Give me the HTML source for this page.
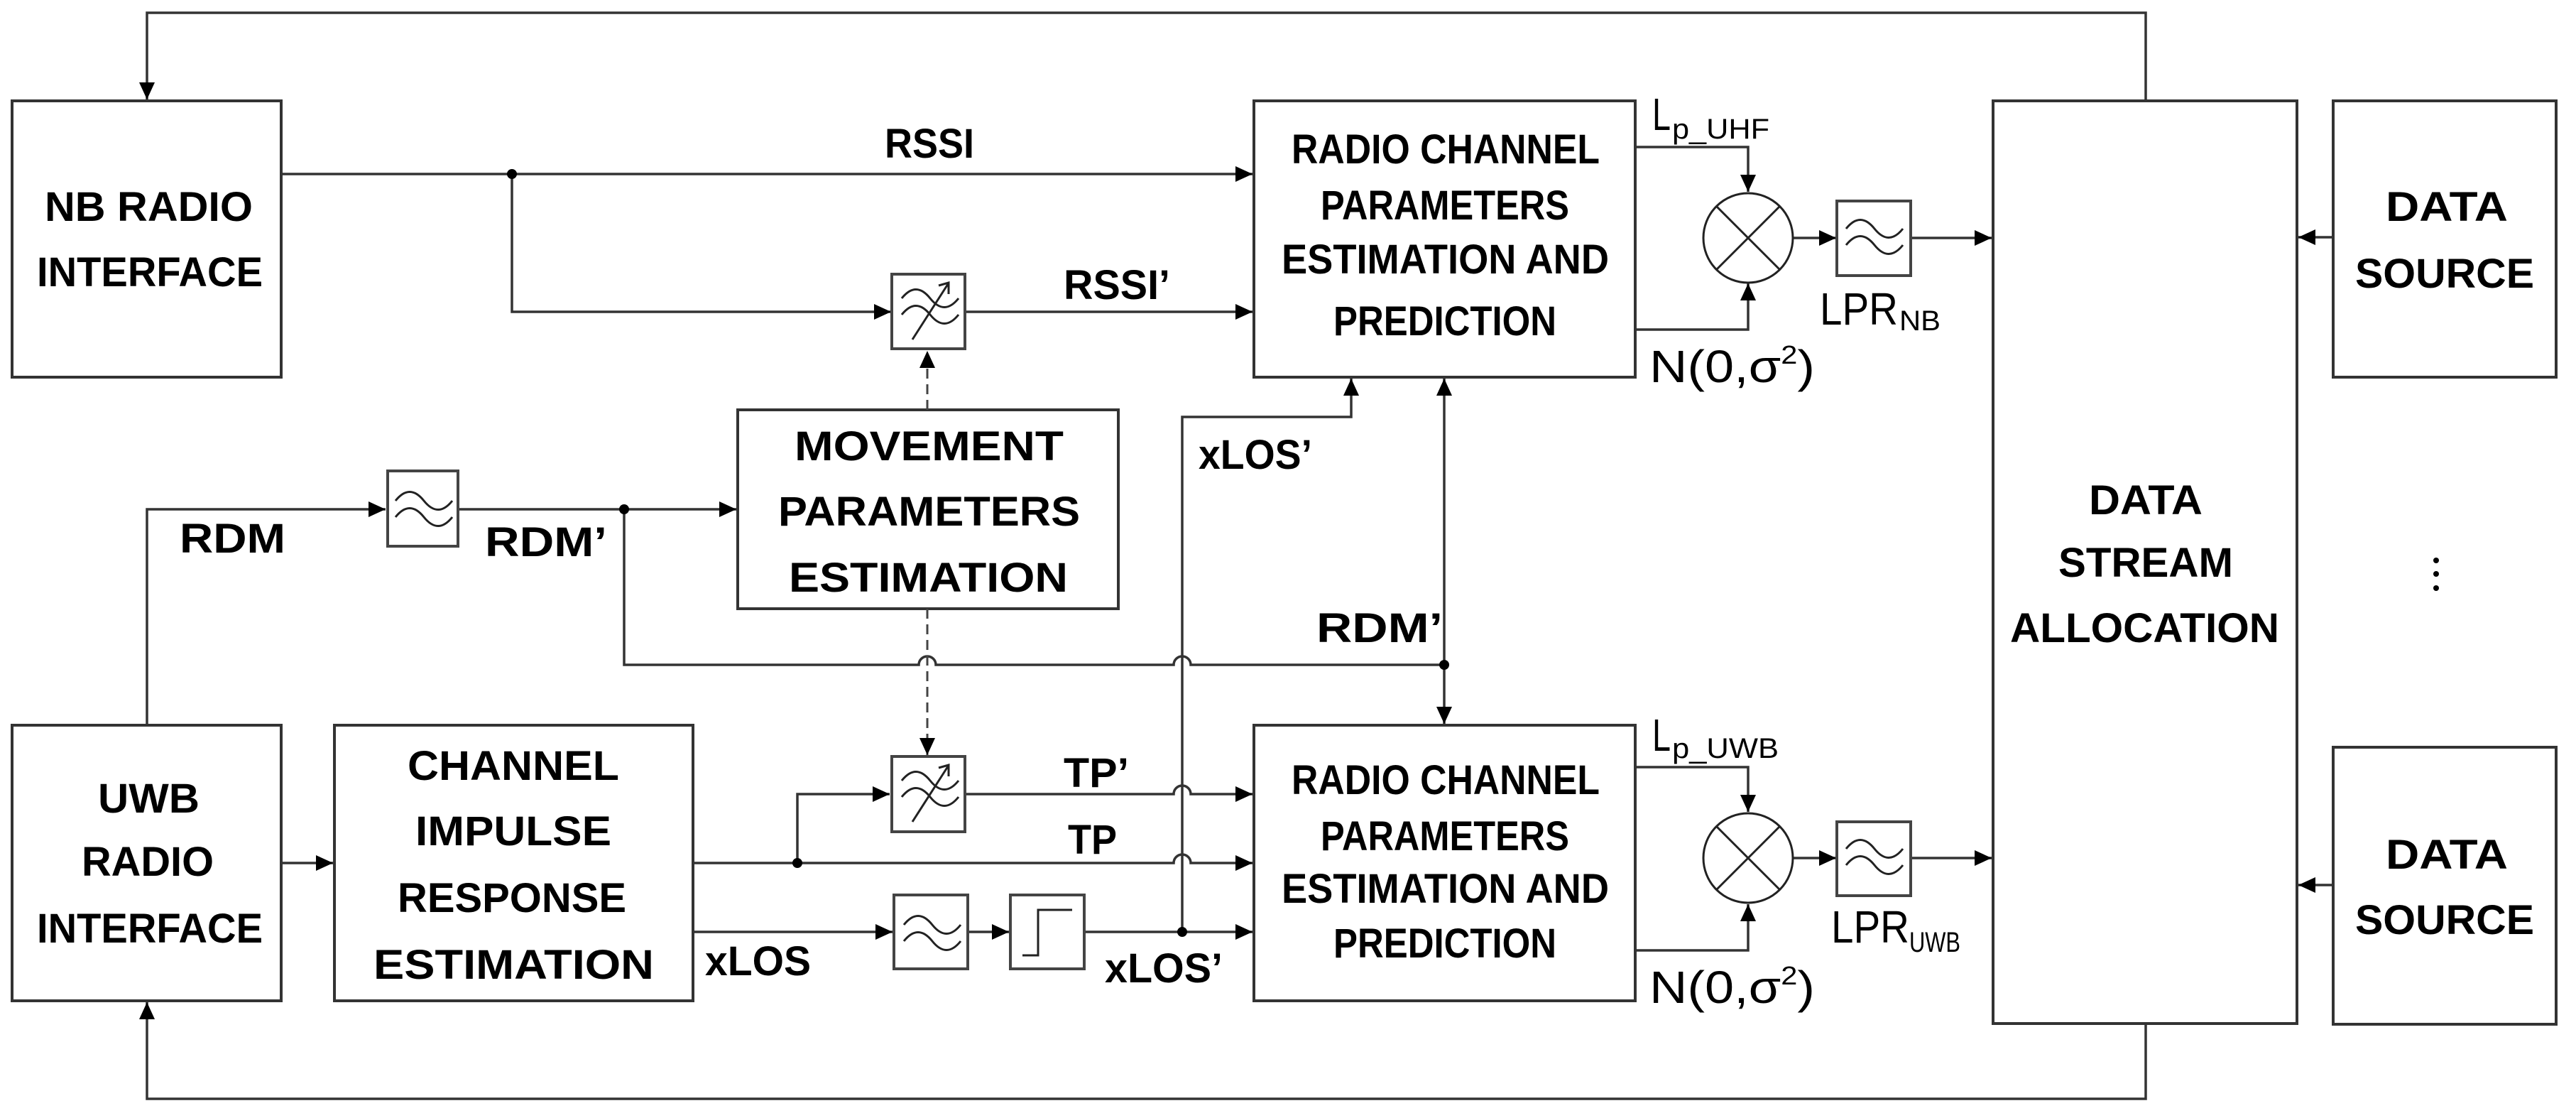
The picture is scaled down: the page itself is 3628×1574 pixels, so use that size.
<!DOCTYPE html>
<html><head><meta charset="utf-8"><style>
html,body{margin:0;padding:0;background:#fff}
svg{display:block}
text{font-family:"Liberation Sans",sans-serif;fill:#000}
.b{font-weight:bold;font-size:58px}
.n{font-size:64px}
.s{font-size:40px}
</style></head><body>
<svg width="3628" height="1574" viewBox="0 0 3628 1574" xmlns="http://www.w3.org/2000/svg">
<defs>
<marker id="a" markerUnits="userSpaceOnUse" markerWidth="26" markerHeight="22" refX="24" refY="11" orient="auto">
<path d="M0,0 L24,11 L0,22 Z" fill="#000"/>
</marker>
</defs>
<g fill="none" stroke="#333" stroke-width="4">
<!-- boxes -->
<rect x="17" y="142" width="379" height="389"/>
<rect x="17" y="1021" width="379" height="388"/>
<rect x="471" y="1021" width="505" height="388"/>
<rect x="1039" y="577" width="536" height="280"/>
<rect x="1766" y="142" width="537" height="389"/>
<rect x="1766" y="1021" width="537" height="388"/>
<rect x="2807" y="142" width="428" height="1299"/>
<rect x="3286" y="142" width="314" height="389"/>
<rect x="3286" y="1052" width="314" height="390"/>
</g>
<g fill="none" stroke="#333" stroke-width="3.5">
<!-- feedback lines -->
<path d="M3022,142 V18 H207 V140" marker-end="url(#a)"/>
<path d="M3022,1441 V1547 H207 V1411" marker-end="url(#a)"/>
<!-- RSSI -->
<path d="M396,245 H1764" marker-end="url(#a)"/>
<path d="M721,245 V439 H1255" marker-end="url(#a)"/>
<path d="M1358,439 H1764" marker-end="url(#a)"/>
<!-- RDM -->
<path d="M207,1021 V717 H543" marker-end="url(#a)"/>
<path d="M645,717 H1037" marker-end="url(#a)"/>
<path d="M879,717 V936 H1294 a12,12 0 0 1 24,0 H1653 a12,12 0 0 1 24,0 H2034"/>
<path d="M2034,936 V533" marker-end="url(#a)"/>
<path d="M2034,936 V1019" marker-end="url(#a)"/>
<!-- UWB -> CIR -->
<path d="M396,1215 H469" marker-end="url(#a)"/>
<!-- TP -->
<path d="M976,1215 H1653 a12,12 0 0 1 24,0 H1764" marker-end="url(#a)"/>
<path d="M1123,1215 V1118 H1253" marker-end="url(#a)"/>
<path d="M1358,1118 H1653 a12,12 0 0 1 24,0 H1764" marker-end="url(#a)"/>
<!-- xLOS -->
<path d="M976,1312 H1257" marker-end="url(#a)"/>
<path d="M1363,1312 H1421" marker-end="url(#a)"/>
<path d="M1527,1312 H1764" marker-end="url(#a)"/>
<path d="M1665,1312 V587 H1903 V533" marker-end="url(#a)"/>
<!-- mixers upper -->
<path d="M2303,207 H2462 V270" marker-end="url(#a)"/>
<path d="M2303,464 H2462 V399" marker-end="url(#a)"/>
<path d="M2525,335 H2586" marker-end="url(#a)"/>
<path d="M2691,335 H2805" marker-end="url(#a)"/>
<!-- mixers lower -->
<path d="M2303,1080 H2462 V1143" marker-end="url(#a)"/>
<path d="M2303,1338 H2462 V1273" marker-end="url(#a)"/>
<path d="M2525,1208 H2586" marker-end="url(#a)"/>
<path d="M2691,1208 H2805" marker-end="url(#a)"/>
<!-- data sources -->
<path d="M3286,334 H3237" marker-end="url(#a)"/>
<path d="M3286,1246 H3237" marker-end="url(#a)"/>
</g>
<!-- dashed -->
<g fill="none" stroke="#444" stroke-width="3" stroke-dasharray="14,8">
<path d="M1306,577 V494" marker-end="url(#a)"/>
<path d="M1306,857 V1063" marker-end="url(#a)"/>
</g>
<!-- dots -->
<g fill="#000">
<circle cx="721" cy="245" r="7"/>
<circle cx="879" cy="717" r="7"/>
<circle cx="2034" cy="936" r="7"/>
<circle cx="1123" cy="1215" r="7"/>
<circle cx="1665" cy="1312" r="7"/>
<circle cx="3431" cy="789" r="4"/><circle cx="3431" cy="808" r="4"/><circle cx="3431" cy="828" r="4"/>
</g>
<!-- mixers -->
<g fill="#fff" stroke="#222" stroke-width="3">
<circle cx="2462" cy="335" r="63"/>
<path d="M2417,290 L2507,380 M2507,290 L2417,380"/>
<circle cx="2462" cy="1208" r="63"/>
<path d="M2417,1163 L2507,1253 M2507,1163 L2417,1253"/>
</g>
<!-- filter boxes -->
<g stroke="#444" stroke-width="4" fill="#fff">
<rect x="1256" y="386" width="103" height="105"/>
<rect x="1256" y="1065" width="103" height="106"/>
<rect x="546" y="663" width="99" height="106"/>
<rect x="1259" y="1260" width="104" height="104"/>
<rect x="1423" y="1260" width="104" height="104"/>
<rect x="2587" y="283" width="104" height="105"/>
<rect x="2587" y="1157" width="104" height="104"/>
</g>
<g fill="none" stroke="#222" stroke-width="3">
<!-- tilde pairs -->
<path d="M560,705 q20,-25 40,0 t40,0 M560,728 q20,-25 40,0 t40,0" transform="translate(-3,0)"/>
<path d="M1273,1302 q20,-25 40,0 t40,0 M1273,1325 q20,-25 40,0 t40,0"/>
<path d="M2600,322 q20,-25 40,0 t40,0 M2600,345 q20,-25 40,0 t40,0"/>
<path d="M2600,1195 q20,-25 40,0 t40,0 M2600,1218 q20,-25 40,0 t40,0"/>
<!-- tunable -->
<path d="M1270,420 q20,-25 40,0 t40,0 M1270,443 q20,-25 40,0 t40,0 M1285,478 L1335,400 M1322,402 L1336,398 L1336,414"/>
<path d="M1270,1099 q20,-25 40,0 t40,0 M1270,1122 q20,-25 40,0 t40,0 M1285,1157 L1335,1079 M1322,1081 L1336,1077 L1336,1093"/>
<!-- step -->
<path d="M1440,1345 H1462 V1281 H1510"/>
</g>
<!-- main labels -->
<g class="b" text-anchor="start">
<text x="63" y="311" textLength="293" lengthAdjust="spacingAndGlyphs">NB RADIO</text>
<text x="52" y="403" textLength="318" lengthAdjust="spacingAndGlyphs">INTERFACE</text>
<text x="138" y="1144" textLength="143" lengthAdjust="spacingAndGlyphs">UWB</text>
<text x="115" y="1233" textLength="186" lengthAdjust="spacingAndGlyphs">RADIO</text>
<text x="52" y="1327" textLength="318" lengthAdjust="spacingAndGlyphs">INTERFACE</text>
<text x="574" y="1098" textLength="298" lengthAdjust="spacingAndGlyphs">CHANNEL</text>
<text x="585" y="1190" textLength="276" lengthAdjust="spacingAndGlyphs">IMPULSE</text>
<text x="560" y="1284" textLength="322" lengthAdjust="spacingAndGlyphs">RESPONSE</text>
<text x="526" y="1378" textLength="395" lengthAdjust="spacingAndGlyphs">ESTIMATION</text>
<text x="1119" y="648" textLength="379" lengthAdjust="spacingAndGlyphs">MOVEMENT</text>
<text x="1096" y="740" textLength="425" lengthAdjust="spacingAndGlyphs">PARAMETERS</text>
<text x="1111" y="833" textLength="393" lengthAdjust="spacingAndGlyphs">ESTIMATION</text>
<text x="1819" y="230" textLength="434" lengthAdjust="spacingAndGlyphs">RADIO CHANNEL</text>
<text x="1860" y="309" textLength="350" lengthAdjust="spacingAndGlyphs">PARAMETERS</text>
<text x="1805" y="385" textLength="461" lengthAdjust="spacingAndGlyphs">ESTIMATION AND</text>
<text x="1878" y="472" textLength="314" lengthAdjust="spacingAndGlyphs">PREDICTION</text>
<text x="1819" y="1118" textLength="434" lengthAdjust="spacingAndGlyphs">RADIO CHANNEL</text>
<text x="1860" y="1197" textLength="350" lengthAdjust="spacingAndGlyphs">PARAMETERS</text>
<text x="1805" y="1271" textLength="461" lengthAdjust="spacingAndGlyphs">ESTIMATION AND</text>
<text x="1878" y="1348" textLength="314" lengthAdjust="spacingAndGlyphs">PREDICTION</text>
<text x="2942" y="724" textLength="160" lengthAdjust="spacingAndGlyphs">DATA</text>
<text x="2899" y="812" textLength="246" lengthAdjust="spacingAndGlyphs">STREAM</text>
<text x="2831" y="904" textLength="379" lengthAdjust="spacingAndGlyphs">ALLOCATION</text>
<text x="3360" y="311" textLength="172" lengthAdjust="spacingAndGlyphs">DATA</text>
<text x="3317" y="405" textLength="252" lengthAdjust="spacingAndGlyphs">SOURCE</text>
<text x="3360" y="1223" textLength="172" lengthAdjust="spacingAndGlyphs">DATA</text>
<text x="3317" y="1315" textLength="252" lengthAdjust="spacingAndGlyphs">SOURCE</text>
<text x="1246" y="222" textLength="126" lengthAdjust="spacingAndGlyphs">RSSI</text>
<text x="1498" y="421" textLength="150" lengthAdjust="spacingAndGlyphs">RSSI’</text>
<text x="253" y="778" textLength="149" lengthAdjust="spacingAndGlyphs">RDM</text>
<text x="683" y="783" textLength="172" lengthAdjust="spacingAndGlyphs">RDM’</text>
<text x="1854" y="904" textLength="178" lengthAdjust="spacingAndGlyphs">RDM’</text>
<text x="1688" y="660" textLength="160" lengthAdjust="spacingAndGlyphs">xLOS’</text>
<text x="993" y="1373" textLength="149" lengthAdjust="spacingAndGlyphs">xLOS</text>
<text x="1556" y="1383" textLength="166" lengthAdjust="spacingAndGlyphs">xLOS’</text>
<text x="1498" y="1108" textLength="92" lengthAdjust="spacingAndGlyphs">TP’</text>
<text x="1504" y="1202" textLength="69" lengthAdjust="spacingAndGlyphs">TP</text>
</g>
<!-- math labels -->
<g class="n">
<text x="2327" y="183" textLength="26" lengthAdjust="spacingAndGlyphs">L</text>
<text x="2355" y="195" class="s" textLength="137" lengthAdjust="spacingAndGlyphs">p_UHF</text>
<text x="2323" y="538" textLength="233" lengthAdjust="spacingAndGlyphs">N(0,σ<tspan dy="-26" font-size="36">2</tspan><tspan dy="26">)</tspan></text>
<text x="2563" y="457" textLength="110" lengthAdjust="spacingAndGlyphs">LPR</text>
<text x="2675" y="465" class="s" textLength="58" lengthAdjust="spacingAndGlyphs">NB</text>
<text x="2327" y="1057" textLength="26" lengthAdjust="spacingAndGlyphs">L</text>
<text x="2355" y="1067" class="s" textLength="150" lengthAdjust="spacingAndGlyphs">p_UWB</text>
<text x="2323" y="1412" textLength="233" lengthAdjust="spacingAndGlyphs">N(0,σ<tspan dy="-26" font-size="36">2</tspan><tspan dy="26">)</tspan></text>
<text x="2579" y="1327" textLength="110" lengthAdjust="spacingAndGlyphs">LPR</text>
<text x="2689" y="1340" class="s" textLength="72" lengthAdjust="spacingAndGlyphs">UWB</text>
</g>
</svg>
</body></html>
